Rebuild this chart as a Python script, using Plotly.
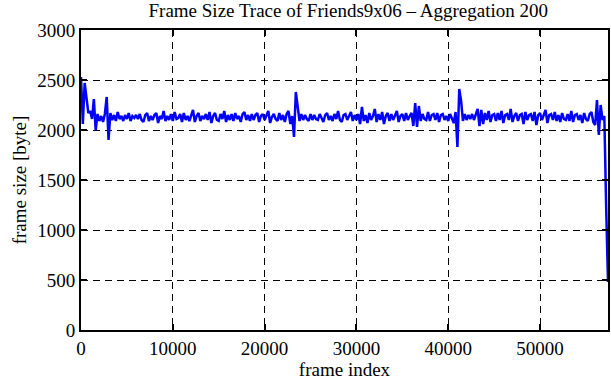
import plotly.graph_objects as go

step = 200
frame_size = [
    2530, 2060, 2470, 2290, 2170, 2190, 2110, 2310, 2000, 2160, 2090, 2140,
    2080, 2160, 2330, 1900, 2170, 2100, 2150, 2090, 2180, 2110, 2140, 2090,
    2150, 2110, 2170, 2090, 2140, 2120, 2150, 2110, 2160, 2100, 2080, 2150,
    2170, 2090, 2140, 2100, 2150, 2170, 2070, 2140, 2110, 2190, 2090, 2140,
    2100, 2160, 2090, 2180, 2110, 2120, 2160, 2080, 2170, 2100, 2140, 2090,
    2150, 2200, 2080, 2140, 2170, 2090, 2140, 2110, 2160, 2100, 2180, 2070,
    2140, 2170, 2100, 2090, 2160, 2110, 2190, 2080, 2150, 2100, 2160, 2090,
    2170, 2110, 2140, 2080, 2160, 2180, 2100, 2150, 2090, 2160, 2100, 2150,
    2170, 2080, 2140, 2160, 2100, 2150, 2190, 2070, 2130, 2160, 2110, 2090,
    2170, 2100, 2150, 2080, 2160, 2190, 2060, 2140, 1930, 2380, 2250, 2090,
    2160, 2100, 2150, 2110, 2090, 2160, 2100, 2150, 2110, 2100, 2160, 2120,
    2080, 2150, 2170, 2100, 2140, 2090, 2160, 2110, 2190, 2100, 2080, 2150,
    2160, 2100, 2140, 2180, 2090, 2150, 2100, 2160, 2060, 2230, 2090, 2150,
    2070, 2170, 2100, 2140, 2210, 2080, 2160, 2100, 2180, 2060, 2140, 2170,
    2090, 2160, 2100, 2150, 2190, 2080, 2140, 2160, 2090, 2170, 2100, 2140,
    2170, 2040, 2270, 2030, 2240, 2090, 2160, 2110, 2100, 2180, 2090, 2150,
    2160, 2100, 2170, 2080, 2150, 2160, 2100, 2140, 2090, 2160, 2110, 2070,
    2180, 1830, 2410, 2290, 2090, 2160, 2100, 2150, 2110, 2160, 2100, 2150,
    2210, 2040, 2200, 2060, 2170, 2100, 2190, 2080, 2150, 2160, 2090, 2170,
    2100, 2190, 2070, 2150, 2160, 2100, 2210, 2080, 2140, 2170, 2090, 2150,
    2160, 2060, 2180, 2100, 2150, 2160, 2090, 2180, 2050, 2150, 2170, 2100,
    2150, 2200, 2070, 2150, 2160, 2100, 2180, 2090, 2150, 2080, 2170, 2110,
    2100, 2160, 2090, 2190, 2080, 2150, 2160, 2100, 2150, 2070, 2170, 2110,
    2090, 2160, 2180, 2080, 2050, 2300, 1950, 2250, 2100, 2140, 1230, 480,
]
frame_index = [i * step for i in range(len(frame_size))]

x_ticks = [0, 10000, 20000, 30000, 40000, 50000]
x_labels = ["0", "10000", "20000", "30000", "40000", "50000"]
y_ticks = [0, 500, 1000, 1500, 2000, 2500, 3000]
y_labels = ["0", "500", "1000", "1500", "2000", "2500", "3000"]

font = "Liberation Serif"

fig = go.Figure()
fig.add_trace(go.Scatter(x=frame_index, y=frame_size, mode="lines",
                         line=dict(color="#0000ff", width=2.5), showlegend=False))

axis_common = dict(
    showline=True, linecolor="black", linewidth=2, mirror="ticks",
    ticks="inside", ticklen=6, tickwidth=2, tickcolor="black",
    showgrid=True, gridcolor="black", gridwidth=1, griddash="7px,5px",
    zeroline=False, automargin=False,
    tickfont=dict(family=font, size=19, color="black"),
)

fig.update_layout(
    width=611, height=380,
    margin=dict(l=81, r=3, t=30, b=50),
    paper_bgcolor="white", plot_bgcolor="white",
    title=dict(text="Frame Size Trace of Friends9x06 \u2013 Aggregation 200",
               x=0.57, xanchor="center", y=0.99, yanchor="top",
               font=dict(family=font, size=19, color="black")),
    xaxis=dict(range=[0, 57400], tickvals=x_ticks, ticktext=x_labels,
               title=dict(text="frame index", font=dict(family=font, size=19, color="black"), standoff=4),
               **axis_common),
    yaxis=dict(range=[0, 3000], tickvals=y_ticks, ticktext=y_labels,
               title=dict(text="frame size [byte]", font=dict(family=font, size=19, color="black"), standoff=6),
               **axis_common),
)

fig.write_html("out.html", config={"displayModeBar": False},
               post_script="document.body.style.margin='0px';")
